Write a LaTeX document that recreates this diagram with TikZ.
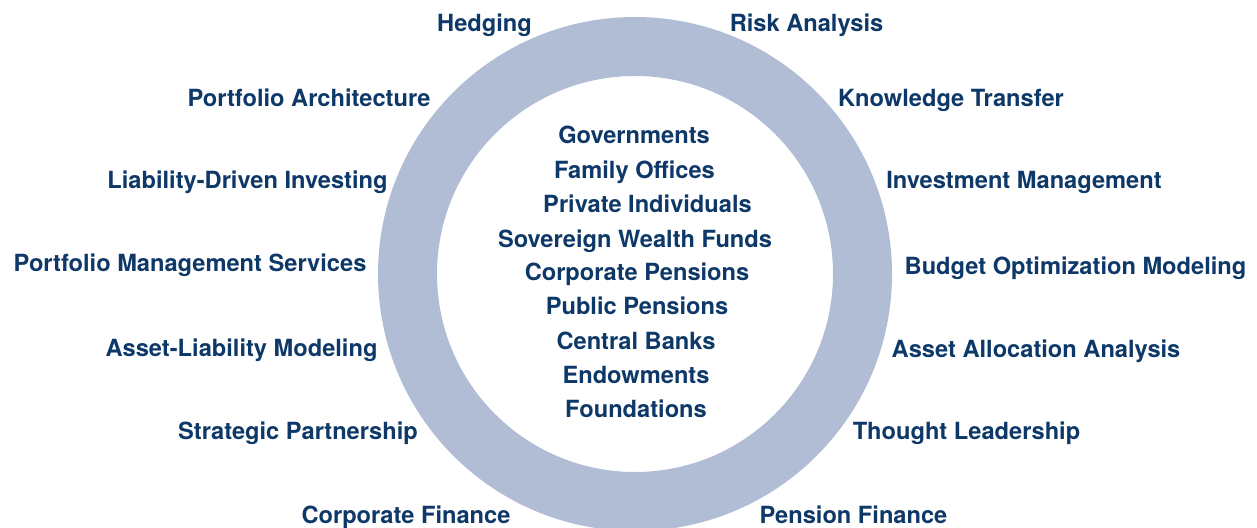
\documentclass[tikz,border=0pt]{standalone}
\usepackage{fontspec}
\setmainfont{TeX Gyre Heros}
\definecolor{ringc}{HTML}{B0BDD5}
\definecolor{navy}{HTML}{0D3868}
\begin{document}
\begin{tikzpicture}[x=1pt,y=-1pt,
  lbl/.style={text=navy,font=\fontsize{23.65}{28}\selectfont\bfseries,anchor=base,inner sep=0pt}]
\useasboundingbox (0,0) rectangle (1257,527);
\begin{scope}
\clip (0,0) rectangle (1257,527);
\fill[ringc,even odd rule] (635,274) circle[radius=257] (635,274) circle[radius=198];
\end{scope}
% center list
\node[lbl] (c1) at (634,143) {Governments};
\node[lbl] (c2) at (634.5,178) {Family Offices};
\node[lbl] (c3) at (647.5,212) {Private Individuals};
\node[lbl] (c4) at (635,247) {Sovereign Wealth Funds};
\node[lbl] (c5) at (637,280) {Corporate Pensions};
\node[lbl] (c6) at (637,314) {Public Pensions};
\node[lbl] (c7) at (636,349) {Central Banks};
\node[lbl] (c8) at (636,383) {Endowments};
\node[lbl] (c9) at (636,417) {Foundations};
% outer labels
\node[lbl] (o1) at (484.5,32) {Hedging};
\node[lbl] (o2) at (806.5,32) {Risk Analysis};
\node[lbl] (o3) at (309,106) {Portfolio Architecture};
\node[lbl] (o4) at (951,106) {Knowledge Transfer};
\node[lbl] (o5) at (247.5,188) {Liability-Driven Investing};
\node[lbl] (o6) at (1024,188) {Investment Management};
\node[lbl] (o7) at (190,271) {Portfolio Management Services};
\node[lbl] (o8) at (1075.5,274) {Budget Optimization Modeling};
\node[lbl] (o9) at (241.5,356) {Asset-Liability Modeling};
\node[lbl] (o10) at (1036,357) {Asset Allocation Analysis};
\node[lbl] (o11) at (298,439) {Strategic Partnership};
\node[lbl] (o12) at (966.5,439) {Thought Leadership};
\node[lbl] (o13) at (406,523) {Corporate Finance};
\node[lbl] (o14) at (853.5,523) {Pension Finance};
\end{tikzpicture}
\end{document}
